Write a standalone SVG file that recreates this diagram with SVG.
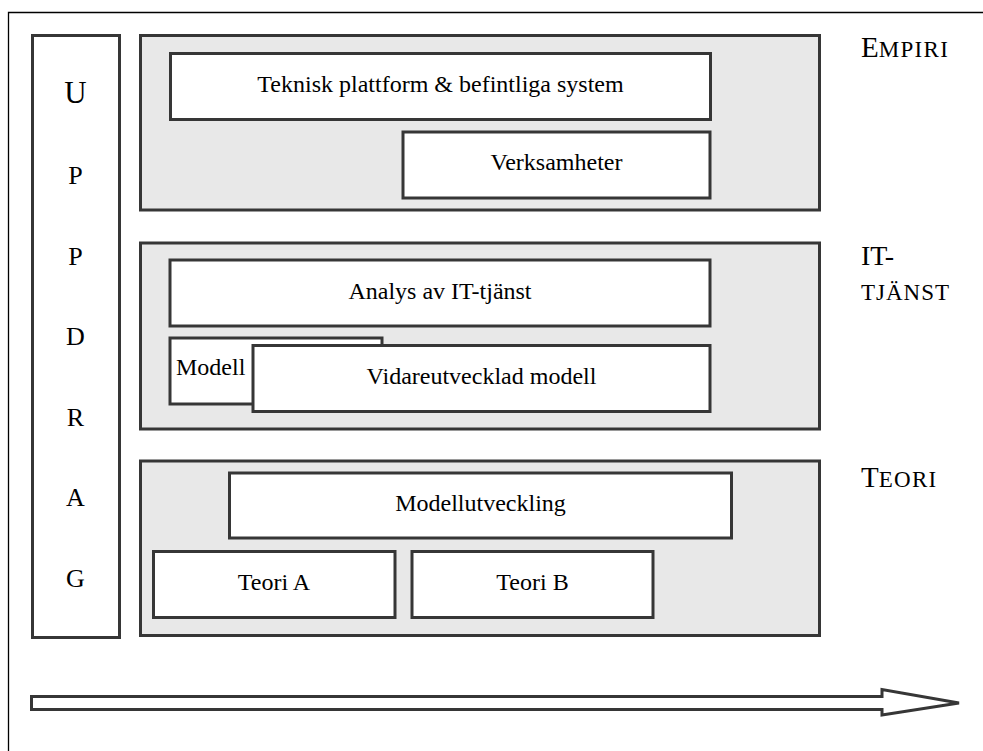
<svg xmlns="http://www.w3.org/2000/svg" width="983" height="751" viewBox="0 0 983 751">
  <style>
    .frame { fill: none; stroke: #000; stroke-width: 1.3; }
    .band { fill: #e8e8e8; stroke: #363636; stroke-width: 3; }
    .box { fill: #fff; stroke: #363636; stroke-width: 3; }
    text { fill: #000; }
    .txt { font-size: 24px; }
    .mid { text-anchor: middle; }
    .big { font-size: 29px; }
    .sc { font-size: 23px; letter-spacing: 1.3px; }
    .letter { font-size: 26px; text-anchor: middle; }
  </style>
  <rect width="983" height="751" fill="#fff"/>

  <g font-family="'Liberation Serif', 'DejaVu Serif', serif">
  <!-- outer frame (top and left edges) -->
  <polyline class="frame" points="8.5,751 8.5,12.5 983,12.5"/>

  <!-- vertical UPPDRAG column -->
  <g id="uppdrag">
    <rect class="box" x="32.5" y="35.5" width="87" height="602"/>
    <text class="letter" x="75.5" y="103" style="font-size:31px">U</text>
    <text class="letter" x="75.5" y="184">P</text>
    <text class="letter" x="75.5" y="265">P</text>
    <text class="letter" x="75.5" y="345">D</text>
    <text class="letter" x="75.5" y="426">R</text>
    <text class="letter" x="75.5" y="506">A</text>
    <text class="letter" x="75.5" y="587">G</text>
  </g>

  <!-- EMPIRI band -->
  <g id="empiri">
    <rect class="band" x="140.5" y="35.5" width="679" height="174.5"/>
    <text class="big" x="861" y="57">E<tspan class="sc">MPIRI</tspan></text>
  </g>
  <g id="teknisk">
    <rect class="box" x="170.5" y="53.5" width="540" height="66"/>
    <text class="txt mid" x="440.5" y="92">Teknisk plattform &amp; befintliga system</text>
  </g>
  <g id="verksamheter">
    <rect class="box" x="403" y="132" width="307" height="66"/>
    <text class="txt mid" x="556.5" y="170">Verksamheter</text>
  </g>

  <!-- IT-TJÄNST band -->
  <g id="it-tjanst">
    <rect class="band" x="140.5" y="243" width="679" height="186"/>
    <text class="big" x="861" y="265" style="font-size:28px">IT-</text>
    <text class="sc" x="861" y="300" style="letter-spacing:1px">TJÄNST</text>
  </g>
  <g id="analys">
    <rect class="box" x="170" y="260" width="540" height="66"/>
    <text class="txt mid" x="440" y="298.5">Analys av IT-tjänst</text>
  </g>
  <g id="modell">
    <rect class="box" x="170" y="338" width="212" height="66"/>
    <text class="txt" x="176" y="375">Modell</text>
  </g>
  <g id="vidareutvecklad">
    <rect class="box" x="253" y="345.5" width="457" height="66"/>
    <text class="txt mid" x="481.5" y="383.5">Vidareutvecklad modell</text>
  </g>

  <!-- TEORI band -->
  <g id="teori">
    <rect class="band" x="140.5" y="461" width="679" height="174.5"/>
    <text class="big" x="861" y="487">T<tspan class="sc">EORI</tspan></text>
  </g>
  <g id="modellutveckling">
    <rect class="box" x="229.5" y="473" width="502" height="65"/>
    <text class="txt mid" x="480.5" y="510.5">Modellutveckling</text>
  </g>
  <g id="teori-a">
    <rect class="box" x="153.5" y="551.5" width="241.5" height="66"/>
    <text class="txt mid" x="274" y="589.5">Teori A</text>
  </g>
  <g id="teori-b">
    <rect class="box" x="412" y="551.5" width="241" height="66"/>
    <text class="txt mid" x="532.5" y="589.5">Teori B</text>
  </g>

  <!-- time arrow -->
  <g id="connectors">
    <polygon class="box" points="31.5,696.5 882,696.5 882,689.5 959,703 882,715 882,709.5 31.5,709.5"/>
  </g>
  </g>
</svg>
